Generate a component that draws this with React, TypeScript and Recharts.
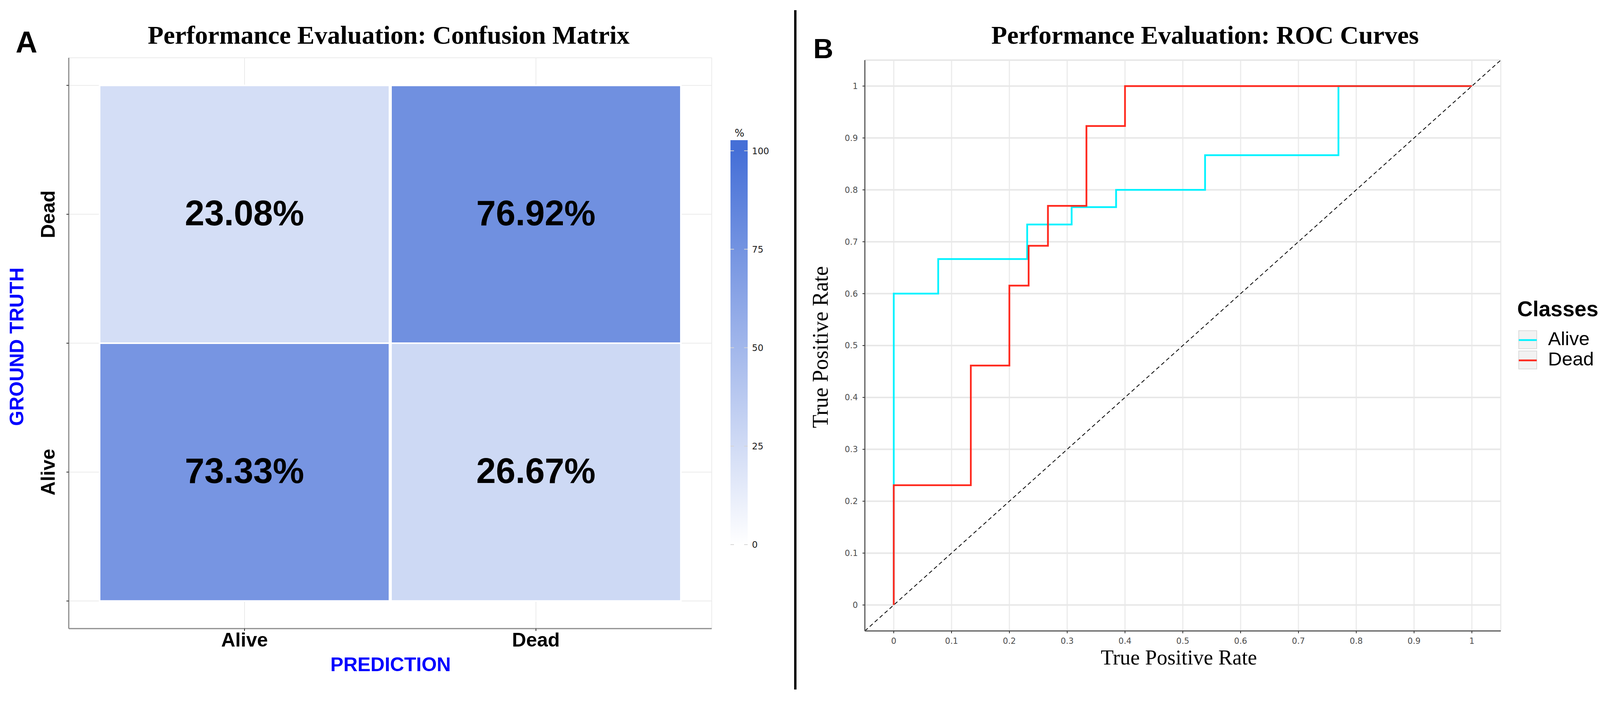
import React from 'react';
import {
  BarChart,
  Bar,
  Cell,
  XAxis,
  YAxis,
  CartesianGrid,
  LabelList,
  ComposedChart,
  Line,
  ReferenceLine,
  ReferenceArea,
} from 'recharts';

// ---------- Confusion matrix data ----------
const predictionClasses = ['Alive', 'Dead'];
const truthClasses = ['Alive', 'Dead'];
// percentages per predicted class (column), for each ground-truth row
const pctTruthAlive = [73.33, 26.67];
const pctTruthDead = [23.08, 76.92];
const matrixYTicks = [0, 0.5, 1, 1.5, 2];
const matrixYMinor = [0.25, 0.75, 1.25, 1.75];
const colorbarTicks = [0, 25, 50, 75, 100];

// ---------- ROC data ----------
const rocTicks = [0, 0.1, 0.2, 0.3, 0.4, 0.5, 0.6, 0.7, 0.8, 0.9, 1];
const rocMinor = [0.05, 0.15, 0.25, 0.35, 0.45, 0.55, 0.65, 0.75, 0.85, 0.95];
const aliveFpr = [0, 0, 0.0769, 0.2308, 0.3077, 0.3846, 0.5385, 0.7692, 1];
const aliveTpr = [0, 0.6, 0.6667, 0.7333, 0.7667, 0.8, 0.8667, 1, 1];
const deadFpr = [0, 0, 0.1333, 0.2, 0.2333, 0.2667, 0.3333, 0.4, 1];
const deadTpr = [0, 0.2308, 0.4615, 0.6154, 0.6923, 0.7692, 0.9231, 1, 1];
const classNames = ['Alive', 'Dead'];
const classColors = ['#00F2FF', '#FF2A1F'];

// ---------- derived tables ----------
const matrixData = predictionClasses.map((p, i) => ({
  pred: p,
  aliveUnit: 1,
  deadUnit: 1,
  alivePct: pctTruthAlive[i],
  deadPct: pctTruthDead[i],
}));
const alivePts = aliveFpr.map((x, i) => ({ x, y: aliveTpr[i] }));
const deadPts = deadFpr.map((x, i) => ({ x, y: deadTpr[i] }));
const rocSeries = [
  { name: classNames[0], color: classColors[0], data: alivePts },
  { name: classNames[1], color: classColors[1], data: deadPts },
];

const HIGH = [69, 111, 215];
const fillFor = (pct: number) => {
  const t = Math.max(0, Math.min(1, pct / 100));
  const c = HIGH.map((h) => Math.round(255 - t * (255 - h)));
  return `rgb(${c[0]},${c[1]},${c[2]})`;
};

const SANS = '"Liberation Sans", Arial, sans-serif';
const SERIF = '"Liberation Serif", "Times New Roman", serif';
const DEJAVU = '"DejaVu Sans", sans-serif';

const MatrixYTick = (props: any) => {
  const { x, y, payload } = props;
  const idx = payload.value - 0.5;
  const label = Number.isInteger(idx) ? truthClasses[idx] : '';
  if (!label) return <g />;
  return (
    <text
      x={x}
      y={y}
      transform={`rotate(-90 ${x} ${y})`}
      textAnchor="middle"
      fontSize={50}
      fontWeight="bold"
      fontFamily={SANS}
      fill="#000"
    >
      {label}
    </text>
  );
};

const MatrixXTick = (props: any) => {
  const { x, y, payload } = props;
  return (
    <text x={x} y={y + 36} textAnchor="middle" fontSize={50} fontWeight="bold" fontFamily={SANS} fill="#000">
      {payload.value}
    </text>
  );
};

const PctLabel = (props: any) => {
  const { x, y, width, height, value } = props;
  return (
    <text
      x={x + width / 2}
      y={y + height / 2 + 28}
      textAnchor="middle"
      fontSize={90}
      fontWeight="bold"
      fontFamily={SANS}
      fill="#000"
    >
      {Number(value).toFixed(2)}%
    </text>
  );
};

const CB_MIN = -1.8;
const CB_MAX = 102.7;
const CbTick = (props: any) => {
  const { x, y, payload } = props;
  const right = x - 11;
  const left = right - 44;
  return (
    <g>
      <line x1={left} x2={left + 9} y1={y} y2={y} stroke="#d4d4d4" strokeWidth={2} />
      <line x1={right - 9} x2={right} y1={y} y2={y} stroke="#d4d4d4" strokeWidth={2} />
      <text x={x} y={y} dy="0.36em" fontSize={23} fontFamily={DEJAVU} fill="#1a1a1a">
        {payload.value}
      </text>
    </g>
  );
};

const fmt = (v: number) => String(v);

export default function App() {
  const cbFrac = (v: number) => (CB_MAX - v) / (CB_MAX - CB_MIN);
  return (
    <div style={{ position: 'absolute', left: 0, top: 0, width: 4133, height: 1798, background: '#fff', overflow: 'hidden' }}>
      {/* Confusion matrix */}
      <div style={{ position: 'absolute', left: 0, top: 0 }}>
        <BarChart
          width={2000}
          height={1798}
          data={matrixData}
          margin={{ top: 148, left: 96, right: 178, bottom: 128 }}
          barCategoryGap={2}
        >
          <CartesianGrid yAxisId="right" vertical={false} stroke="#F4F4F4" strokeWidth={2} />
          <CartesianGrid stroke="#EBEBEB" strokeWidth={2} />
          <XAxis
            dataKey="pred"
            type="category"
            padding={{ left: 77, right: 77 }}
            height={60}
            tickSize={6}
            tickMargin={4}
            axisLine={{ stroke: '#8c8c8c', strokeWidth: 3 }}
            tickLine={{ stroke: '#333', strokeWidth: 2 }}
            tick={<MatrixXTick />}
          />
          <XAxis
            xAxisId="top"
            dataKey="pred"
            type="category"
            orientation="top"
            padding={{ left: 77, right: 77 }}
            height={0}
            tick={false}
            tickLine={false}
            axisLine={{ stroke: '#8c8c8c', strokeWidth: 3 }}
          />
          <YAxis
            type="number"
            domain={[-0.107, 2.107]}
            allowDataOverflow
            ticks={matrixYTicks}
            width={80}
            tickSize={6}
            tickMargin={30}
            axisLine={{ stroke: '#8c8c8c', strokeWidth: 3 }}
            tickLine={{ stroke: '#333', strokeWidth: 2 }}
            tick={<MatrixYTick />}
            interval={0}
          />
          <YAxis
            yAxisId="right"
            orientation="right"
            type="number"
            domain={[-0.107, 2.107]}
            allowDataOverflow
            ticks={matrixYMinor}
            width={0}
            tick={false}
            tickLine={false}
            axisLine={{ stroke: '#8c8c8c', strokeWidth: 3 }}
          />
          <Bar dataKey="aliveUnit" stackId="m" isAnimationActive={false} stroke="#fff" strokeWidth={4}>
            {matrixData.map((d, i) => (
              <Cell key={`a${i}`} fill={fillFor(d.alivePct)} />
            ))}
            <LabelList dataKey="alivePct" content={<PctLabel />} />
          </Bar>
          <Bar dataKey="deadUnit" stackId="m" isAnimationActive={false} stroke="#fff" strokeWidth={4}>
            {matrixData.map((d, i) => (
              <Cell key={`d${i}`} fill={fillFor(d.deadPct)} />
            ))}
            <LabelList dataKey="deadPct" content={<PctLabel />} />
          </Bar>
        </BarChart>
      </div>

      {/* Colorbar */}
      <div style={{ position: 'absolute', left: 1840, top: 300 }}>
        <ComposedChart
          width={200}
          height={1150}
          data={colorbarTicks.map((v) => ({ x: 0.5, v }))}
          margin={{ top: 59, left: 30, right: 46, bottom: 37 }}
        >
          <defs>
            <linearGradient id="cbGrad" x1="0" y1="0" x2="0" y2="1">
              <stop offset="0" stopColor={fillFor(100)} />
              <stop offset={cbFrac(100)} stopColor={fillFor(100)} />
              <stop offset={cbFrac(50)} stopColor={fillFor(50)} />
              <stop offset={cbFrac(0)} stopColor={fillFor(0)} />
              <stop offset="1" stopColor={fillFor(0)} />
            </linearGradient>
          </defs>
          <XAxis dataKey="x" type="number" domain={[0, 1]} hide />
          <YAxis
            orientation="right"
            type="number"
            domain={[CB_MIN, CB_MAX]}
            allowDataOverflow
            ticks={colorbarTicks}
            width={80}
            axisLine={false}
            tickLine={false}
            tickSize={0}
            tickMargin={11}
            tick={<CbTick />}
            interval={0}
          />
          <ReferenceArea
            x1={0}
            x2={1}
            y1={CB_MIN}
            y2={CB_MAX}
            fill="url(#cbGrad)"
            fillOpacity={1}
            stroke="none"
            ifOverflow="visible"
          />
        </ComposedChart>
      </div>

      {/* ROC curves */}
      <div style={{ position: 'absolute', left: 2140, top: 0 }}>
        <ComposedChart width={1993} height={1798} margin={{ top: 154, left: 14, right: 291, bottom: 132 }}>
          <CartesianGrid xAxisId="top" yAxisId="right" stroke="#F3F3F3" strokeWidth={2} />
          <CartesianGrid horizontal={false} stroke="#EBEBEB" strokeWidth={3} />
          <CartesianGrid vertical={false} stroke="#E8E8E8" strokeWidth={4} />
          <XAxis
            dataKey="x"
            type="number"
            domain={[-0.05, 1.05]}
            allowDataOverflow
            ticks={rocTicks}
            interval={0}
            height={50}
            tickSize={6}
            tickMargin={12}
            axisLine={{ stroke: '#5c5c5c', strokeWidth: 3 }}
            tickLine={{ stroke: '#333', strokeWidth: 2 }}
            tick={{ fontSize: 21, fill: '#4D4D4D', fontFamily: DEJAVU }}
            tickFormatter={fmt}
          />
          <XAxis
            xAxisId="top"
            orientation="top"
            type="number"
            domain={[-0.05, 1.05]}
            allowDataOverflow
            ticks={rocMinor}
            interval={0}
            height={0}
            tick={false}
            tickLine={false}
            axisLine={{ stroke: '#5c5c5c', strokeWidth: 3 }}
          />
          <YAxis
            type="number"
            domain={[-0.05, 1.05]}
            allowDataOverflow
            ticks={rocTicks}
            interval={0}
            width={60}
            tickSize={6}
            tickMargin={12}
            axisLine={{ stroke: '#5c5c5c', strokeWidth: 3 }}
            tickLine={{ stroke: '#333', strokeWidth: 2 }}
            tick={{ fontSize: 21, fill: '#4D4D4D', fontFamily: DEJAVU }}
            tickFormatter={fmt}
          />
          <YAxis
            yAxisId="right"
            orientation="right"
            type="number"
            domain={[-0.05, 1.05]}
            allowDataOverflow
            ticks={rocMinor}
            interval={0}
            width={0}
            tick={false}
            tickLine={false}
            axisLine={{ stroke: '#5c5c5c', strokeWidth: 3 }}
          />
          <ReferenceLine
            segment={[
              { x: -0.05, y: -0.05 },
              { x: 1.05, y: 1.05 },
            ]}
            stroke="#000"
            strokeWidth={2}
            strokeDasharray="10 7"
            ifOverflow="visible"
          />
          {rocSeries.map((s) => (
            <Line
              key={s.name}
              name={s.name}
              data={s.data}
              dataKey="y"
              type="stepAfter"
              stroke={s.color}
              strokeWidth={4.5}
              dot={false}
              activeDot={false}
              isAnimationActive={false}
            />
          ))}
        </ComposedChart>
      </div>

      {/* Text overlay: titles, axis titles, legend */}
      <svg
        width={4133}
        height={1798}
        style={{ position: 'absolute', left: 0, top: 0, pointerEvents: 'none' }}
      >
        <text x={40} y={135} fontSize={77} fontWeight="bold" fontFamily={SANS} fill="#000">A</text>
        <text x={995} y={112} textAnchor="middle" fontSize={66} fontWeight="bold" fontFamily={SERIF} fill="#000">
          Performance Evaluation: Confusion Matrix
        </text>
        <text
          x={60}
          y={888}
          transform="rotate(-90 60 888)"
          textAnchor="middle"
          fontSize={50}
          fontWeight="bold"
          fontFamily={SANS}
          fill="#0000FF"
        >
          GROUND TRUTH
        </text>
        <text x={1000} y={1719} textAnchor="middle" fontSize={50} fontWeight="bold" fontFamily={SANS} fill="#0000FF">
          PREDICTION
        </text>
        <text x={1893} y={350} textAnchor="middle" fontSize={26} fontFamily={DEJAVU} fill="#1a1a1a">%</text>

        <rect x={2033} y={26} width={6} height={1740} fill="#000" />

        <text x={2082} y={149} fontSize={71} fontWeight="bold" fontFamily={SANS} fill="#000">B</text>
        <text x={3085} y={112} textAnchor="middle" fontSize={66} fontWeight="bold" fontFamily={SERIF} fill="#000">
          Performance Evaluation: ROC Curves
        </text>
        <text x={3018} y={1702} textAnchor="middle" fontSize={54} fontFamily={SERIF} fill="#000">
          True Positive Rate
        </text>
        <text
          x={2119}
          y={889}
          transform="rotate(-90 2119 889)"
          textAnchor="middle"
          fontSize={56}
          fontFamily={SERIF}
          fill="#000"
        >
          True Positive Rate
        </text>

        <text x={3884} y={810} fontSize={55} fontWeight="bold" fontFamily={SANS} fill="#000">Classes</text>
        {rocSeries.map((s, i) => {
          const top = 847 + i * 52;
          return (
            <g key={s.name}>
              <rect x={3888} y={top} width={46} height={46} fill="#F2F2F2" stroke="#DADADA" strokeWidth={2} />
              <line x1={3888} x2={3934} y1={top + 24} y2={top + 24} stroke={s.color} strokeWidth={4.5} />
              <text x={3963} y={top + 37} fontSize={49} fontFamily={SANS} fill="#000">
                {s.name}
              </text>
            </g>
          );
        })}
      </svg>
    </div>
  );
}
